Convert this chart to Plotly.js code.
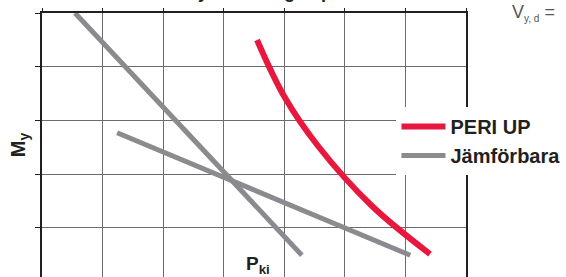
<!DOCTYPE html>
<html>
<head>
<meta charset="utf-8">
<script src="https://cdn.plot.ly/plotly-3.0.1.min.js"></script>
<style>html,body{margin:0;padding:0;background:#fff;}#chart{width:566px;height:277px;}</style>
</head>
<body>
<div id="chart"></div>
<script>
// Data (axis units: one grid cell = 1)
const periX = [3.55, 3.995, 4.557, 5.448, 6.406];
const periY = [4.497, 3.454, 2.523, 1.406, 0.512];
const jamfA_X = [0.545, 4.29];
const jamfA_Y = [5.0, 0.49];
const jamfB_X = [1.24, 6.08];
const jamfB_Y = [2.77, 0.49];
const seriesNames = ['PERI UP', 'Jämförbara'];
const gridX = [0, 1, 2, 3, 4, 5, 6, 7];
const gridY = [1, 2, 3, 4, 5];

const font = 'Liberation Sans, Arial, Helvetica, sans-serif';
const red = '#e8173d';
const gray = '#8b8b8f';

const traces = [
  {x: periX, y: periY, mode: 'lines', name: seriesNames[0],
   line: {color: red, width: 6, shape: 'spline', smoothing: 1}},
  {x: jamfA_X, y: jamfA_Y, mode: 'lines', name: seriesNames[1], legendgroup: 'j',
   line: {color: gray, width: 5}},
  {x: jamfB_X, y: jamfB_Y, mode: 'lines', name: seriesNames[1], legendgroup: 'j', showlegend: false,
   line: {color: gray, width: 5}}
];

const layout = {
  width: 566, height: 277,
  margin: {l: 42, r: 100, t: 13, b: 0},
  paper_bgcolor: '#fff', plot_bgcolor: '#fff',
  font: {family: font, color: '#231f20'},
  xaxis: {range: [0, 7], side: 'top', tickvals: gridX, showticklabels: false,
    ticks: 'outside', ticklen: 3, tickcolor: '#231f20', tickwidth: 1,
    showgrid: true, gridcolor: '#6b6b6b', gridwidth: 1,
    showline: true, linecolor: '#231f20', linewidth: 2, zeroline: false, fixedrange: true},
  yaxis: {range: [0.084, 5], tickvals: gridY, showticklabels: false,
    ticks: 'outside', ticklen: 5, tickcolor: '#231f20', tickwidth: 1,
    showgrid: true, gridcolor: '#6b6b6b', gridwidth: 1,
    showline: true, mirror: true, linecolor: '#231f20', linewidth: 2, zeroline: false,
    title: {text: 'M<sub>y</sub>', font: {family: font, size: 20, color: '#231f20', weight: 'bold'}, standoff: 4},
    fixedrange: true},
  showlegend: true,
  legend: {x: 0.836, xanchor: 'left', y: 0.644, yanchor: 'top', bgcolor: '#fff',
    font: {family: font, size: 20, color: '#231f20', weight: 'bold'},
    itemwidth: 44, tracegroupgap: 0},
  annotations: [
    {xref: 'paper', yref: 'paper', x: (258 - 42) / 424, y: (277 - 265) / 264, xanchor: 'center', yanchor: 'middle',
     text: '<b>P<sub>ki</sub></b>', showarrow: false, font: {family: font, size: 19, color: '#231f20'}},
    {xref: 'paper', yref: 'paper', x: (510 - 42) / 424, y: (277 - 13) / 264, xanchor: 'left', yanchor: 'middle',
     text: 'V<sub><span style="font-size:10px">y, d</span></sub> =', showarrow: false, font: {family: font, size: 18, color: '#555'}},
    {xref: 'paper', yref: 'paper', x: (107 - 42) / 424, y: 1.080, xanchor: 'left', yanchor: 'middle',
     text: '<b>Moment My i olika lägen på Pki</b>', showarrow: false, font: {family: font, size: 18, color: '#231f20'}}
  ]
};

Plotly.newPlot('chart', traces, layout, {staticPlot: true, displayModeBar: false});
</script>
</body>
</html>
